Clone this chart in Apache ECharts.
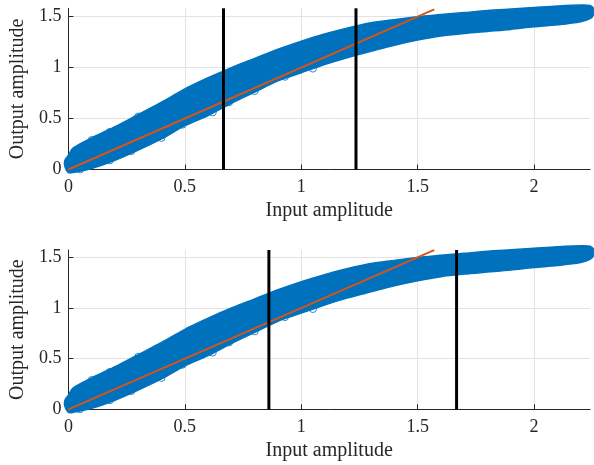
<!DOCTYPE html>
<html>
<head>
<meta charset="utf-8">
<script src="https://cdn.jsdelivr.net/npm/echarts@6/dist/echarts.min.js"></script>
<style>html,body{margin:0;padding:0;background:#fff}#c{width:594px;height:465px}</style>
</head>
<body>
<div id="c"></div>
<script>
// ---- data ----
const bandX    = [-0.015, 0.0,  0.02, 0.1,  0.2,  0.3,  0.4,  0.5,  0.6,  0.7,  0.8,  0.9,  1.0,  1.1,  1.2,  1.3,  1.4,  1.5,  1.6,  1.7,  1.8,  1.9,  2.0,  2.1,  2.2,  2.24, 2.255];
const bandLow  = [0.03, -0.03, -0.03, 0.01, 0.09, 0.19, 0.30, 0.43, 0.53, 0.65, 0.76, 0.87, 0.95, 1.03, 1.10, 1.16, 1.22, 1.27, 1.31, 1.335, 1.355, 1.375, 1.40, 1.42, 1.45, 1.48, 1.52];
const bandHigh = [0.09, 0.14, 0.21, 0.31, 0.42, 0.54, 0.66, 0.79, 0.90, 1.00, 1.09, 1.18, 1.26, 1.33, 1.39, 1.44, 1.47, 1.50, 1.52, 1.54, 1.56, 1.575, 1.59, 1.605, 1.615, 1.61, 1.58];
const outlierX = [0.10, 0.178, 0.30, 0.52, 0.05, 0.178, 0.27, 0.40, 0.49, 0.62, 0.69, 0.80, 0.93, 1.05];
const outlierY = [0.29, 0.37, 0.52, 0.78, 0.00, 0.09, 0.18, 0.31, 0.44, 0.56, 0.66, 0.77, 0.91, 0.99];
const fitX = [0, 1.571];
const fitY = [0, 1.571];
const topCuts = [0.666, 1.235];
const bottomCuts = [0.861, 1.667];
const xTicks = [0, 0.5, 1, 1.5, 2];
const yTicks = [0, 0.5, 1, 1.5];
const xMax = 2.24;
const yMaxTop = 1.582;
const yMaxBottom = 1.573;
const xName = 'Input amplitude';
const yName = 'Output amplitude';

// ---- styling ----
const FONT = 'Liberation Serif';
const AX = '#262626';
const BLUE = '#0072BD';
const RED = '#D95319';
const GRID = '#e3e3e3';

function xAxisFor(gi) {
  return {
    type: 'value', gridIndex: gi, min: 0, max: xMax, interval: 0.5,
    name: xName, nameLocation: 'middle', nameGap: 31,
    nameTextStyle: {fontFamily: FONT, fontSize: 20, color: AX},
    axisLine: {show: true, onZero: false, lineStyle: {color: AX, width: 1}},
    axisTick: {show: true, inside: true, length: 5, lineStyle: {color: AX}, customValues: xTicks},
    axisLabel: {fontFamily: FONT, fontSize: 18, color: AX, margin: 9, customValues: xTicks,
                formatter: v => String(v)},
    splitLine: {show: true, lineStyle: {color: [GRID, GRID, GRID, GRID, GRID, 'rgba(0,0,0,0)'], width: 1}}
  };
}
function yAxisFor(gi, ymax) {
  return {
    type: 'value', gridIndex: gi, min: 0, max: ymax, interval: 0.5,
    name: yName, nameLocation: 'middle', nameGap: 37, nameRotate: 90,
    nameTextStyle: {fontFamily: FONT, fontSize: 20, color: AX},
    axisLine: {show: true, onZero: false, lineStyle: {color: AX, width: 1}},
    axisTick: {show: true, inside: true, length: 5, lineStyle: {color: AX}, customValues: yTicks},
    axisLabel: {fontFamily: FONT, fontSize: 18, color: AX, margin: 7, customValues: yTicks,
                formatter: v => String(v)},
    splitLine: {show: true, lineStyle: {color: [GRID, GRID, GRID, GRID, 'rgba(0,0,0,0)'], width: 1}}
  };
}

function bandSeries(gi) {
  return {
    type: 'custom', xAxisIndex: gi, yAxisIndex: gi, clip: false, z: 2,
    data: [[0, 0]],
    renderItem: function (params, api) {
      const pts = [];
      for (let i = 0; i < bandX.length; i++) pts.push(api.coord([bandX[i], bandHigh[i]]));
      for (let i = bandX.length - 1; i >= 0; i--) pts.push(api.coord([bandX[i], bandLow[i]]));
      return {
        type: 'polygon', shape: {points: pts, smooth: 0.3},
        style: {fill: BLUE, stroke: BLUE, lineWidth: 1.5}
      };
    }
  };
}
function outlierSeries(gi) {
  return {
    type: 'scatter', xAxisIndex: gi, yAxisIndex: gi, z: 3, clip: false,
    symbol: 'circle', symbolSize: 7,
    itemStyle: {color: 'rgba(0,0,0,0)', borderColor: BLUE, borderWidth: 1},
    data: outlierX.map((x, i) => [x, outlierY[i]])
  };
}
function fitSeries(gi) {
  return {
    type: 'line', xAxisIndex: gi, yAxisIndex: gi, z: 4, clip: false,
    showSymbol: false, symbol: 'none',
    lineStyle: {color: RED, width: 2},
    data: fitX.map((x, i) => [x, fitY[i]])
  };
}
function cutSeries(gi, cuts, ymax) {
  return cuts.map(c => ({
    type: 'line', xAxisIndex: gi, yAxisIndex: gi, z: 5, clip: false,
    showSymbol: false, symbol: 'none',
    lineStyle: {color: '#000', width: 3},
    data: [[c, 0], [c, ymax]]
  }));
}

const chart = echarts.init(document.getElementById('c'), null, {renderer: 'canvas'});
chart.setOption({
  animation: false,
  backgroundColor: '#fff',
  grid: [
    {left: 65, right: 4, top: 8.3, height: 161.2},
    {left: 65, right: 4, top: 250, height: 159.3}
  ],
  xAxis: [xAxisFor(0), xAxisFor(1)],
  yAxis: [yAxisFor(0, yMaxTop), yAxisFor(1, yMaxBottom)],
  series: [
    bandSeries(0), outlierSeries(0), fitSeries(0), ...cutSeries(0, topCuts, yMaxTop),
    bandSeries(1), outlierSeries(1), fitSeries(1), ...cutSeries(1, bottomCuts, yMaxBottom)
  ]
});
</script>
</body>
</html>
